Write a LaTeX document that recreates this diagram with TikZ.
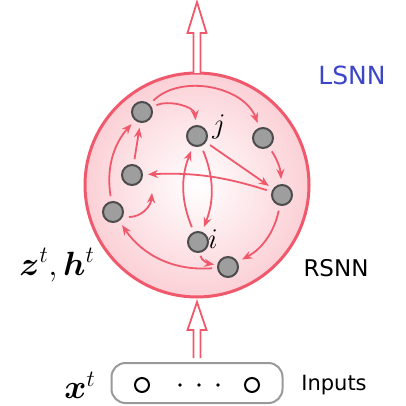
\documentclass[tikz,border=0pt]{standalone}
\usepackage{amsmath, bm}
\usepackage{fontspec}
\setsansfont{DejaVu Sans}
\usetikzlibrary{arrows.meta}
\definecolor{lsred}{RGB}{240,88,108}
\definecolor{lsblue}{RGB}{60,70,200}
\definecolor{ballpink}{RGB}{251,208,214}

\begin{document}
\begin{tikzpicture}[x=1pt, y=1pt, >={Stealth[length=10pt,width=8pt]},
    neuron/.style={circle, draw=black!70, fill=black!38, line width=2pt, minimum size=20pt, inner sep=0pt},
    syn/.style={->, lsred, line width=1.8pt, shorten >=5pt, shorten <=5pt},
    hollow/.style={draw=lsred, line width=1.8pt, fill=white, line join=miter},
    txt/.style={font=\sffamily\fontsize{21}{21}\selectfont},
    mtxt/.style={font=\fontsize{24}{24}\selectfont, scale=1.35}]
  \useasboundingbox (0,0) rectangle (406,405);
  %--- Reservoir
  \node[circle, draw=lsred, line width=3pt, inner color=white, outer color=ballpink,
        minimum size=224pt] (res) at (197,220) {};
  %--- Hollow arrows (top: output, bottom: input)
  \foreach \yb/\yh/\yt in {332/372/403, 47/75/103}
    \draw[hollow] (193.5,\yb) -- (193.5,\yh) -- (187.5,\yh) -- (197,\yt)
                  -- (206.5,\yh) -- (200.5,\yh) -- (200.5,\yb);
  %--- Neurons
  \node[neuron] (n1) at (142,293) {};
  \node[neuron] (nj) at (197,269) {};
  \node[neuron] (n3) at (263,267) {};
  \node[neuron] (n4) at (132,230) {};
  \node[neuron] (n5) at (282,210) {};
  \node[neuron] (n6) at (113,193) {};
  \node[neuron] (ni) at (198,163) {};
  \node[neuron] (n8) at (228,138) {};
  \node[mtxt, scale=0.85] at (219,278) {$j$};
  \node[mtxt, scale=0.85] at (213,166) {$i$};
  %--- Synapses
  \draw[syn] (n1) to[out=25, in=95] (nj);
  \draw[syn] (n1) to[out=45, in=110] (n3);
  \draw[syn] (n3) to[bend left=15] (n5);
  \draw[syn] (nj) -- (n5);
  \draw[syn] (n5) to[bend right=10] (n4);
  \draw[syn] (nj) to[bend left=22] (ni);
  \draw[syn] (ni) to[bend left=22] (nj);
  \draw[syn] (n5) to[bend left=25] (n8);
  \draw[syn, shorten <=3pt, shorten >=3pt] (ni) to[out=-80, in=170] (n8);
  \draw[syn] (n8) to[bend left=30] (n6);
  \draw[syn] (n6) to[bend left=25] (n1);
  \draw[syn] (n4) -- (n1);
  \coordinate (hk1) at (129,188);
  \coordinate (hk2) at (152,212);
  \draw[syn, shorten <=0pt, shorten >=0pt] (hk1) to[out=0, in=-95] (hk2);
  %--- Input layer
  \node[draw=black!40, line width=2pt, rounded corners=14pt, minimum width=171pt,
        minimum height=40pt] (inp) at (197,22) {};
  \node[circle, draw=black, line width=2pt, minimum size=14pt, inner sep=0pt] (x1) at (142,20) {};
  \node[circle, draw=black, line width=2pt, minimum size=14pt, inner sep=0pt] (xn) at (252,20) {};
  \foreach \xd in {180,199,218}
    \fill (\xd,20) circle (1.8);
  %--- Labels
  \node[txt, text=lsblue, font=\sffamily\fontsize{25}{25}\selectfont] at (352,330) {LSNN};
  \node[txt, font=\sffamily\fontsize{23}{23}\selectfont] at (336,137) {RSNN};
  \node[txt] at (334,20) {Inputs};
  \node[mtxt] at (57,140) {$\bm{z}^t,\bm{h}^t$};
  \node[mtxt] at (80,20) {$\bm{x}^t$};
\end{tikzpicture}
\end{document}
